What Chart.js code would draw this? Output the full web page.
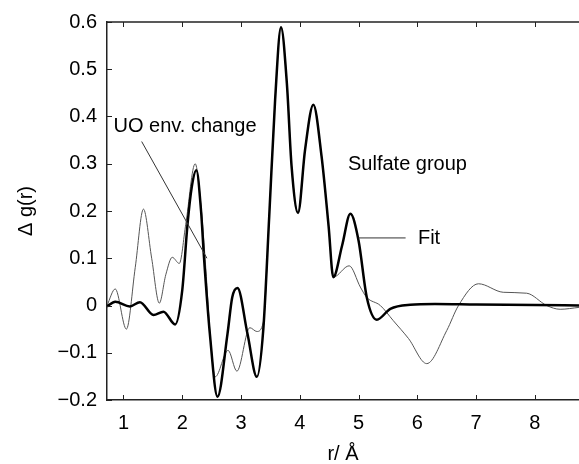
<!DOCTYPE html>
<html>
<head>
<meta charset="utf-8">
<script src="https://cdn.jsdelivr.net/npm/chart.js@4.4.0/dist/chart.umd.min.js"></script>
<style>
  html, body { margin: 0; padding: 0; background: #fff; }
</style>
</head>
<body>
<canvas id="myChart" width="579" height="464"></canvas>
<script>
// r values (Å) and Δg(r) for the fit (thick line)
const rFit = [0.72, 0.86, 1.11, 1.28, 1.51, 1.68, 1.88, 2.0, 2.09, 2.16, 2.24, 2.32, 2.37, 2.47, 2.6, 2.77, 2.85, 2.94, 3.11, 3.27, 3.38, 3.48, 3.58, 3.68, 3.78, 3.86, 3.97, 4.09, 4.23, 4.37, 4.49, 4.57, 4.72, 4.86, 5.0, 5.14, 5.31, 5.54, 5.88, 6.3, 7.0, 8.0, 8.75]
const gFit = [-0.002, 0.008, -0.002, 0.007, -0.02, -0.013, -0.04, 0.032, 0.172, 0.249, 0.286, 0.2, 0.102, -0.06, -0.193, -0.06, 0.017, 0.037, -0.06, -0.151, -0.049, 0.189, 0.435, 0.589, 0.47, 0.295, 0.196, 0.33, 0.425, 0.316, 0.168, 0.06, 0.127, 0.194, 0.137, 0.017, -0.03, -0.007, 0.0015, 0.003, 0.002, 0.001, 0.0]

// r values and Δg(r) for the measured difference (thin line)
const rExp = [0.72, 0.86, 1.05, 1.2, 1.34, 1.48, 1.61, 1.72, 1.83, 1.95, 2.06, 2.22, 2.32, 2.40, 2.48, 2.56, 2.78, 2.93, 3.15, 3.27, 3.38, 3.48, 3.58, 3.68, 3.78, 3.86, 3.97, 4.09, 4.23, 4.37, 4.49, 4.57, 4.84, 5.03, 5.14, 5.37, 5.59, 5.85, 6.16, 6.5, 6.70, 7.04, 7.46, 7.86, 8.2, 8.43, 8.75]
const gExp = [0.0, 0.035, -0.05, 0.08, 0.204, 0.1, 0.005, 0.065, 0.102, 0.089, 0.172, 0.30, 0.21, 0.08, -0.07, -0.151, -0.095, -0.139, -0.047, -0.055, -0.035, 0.189, 0.435, 0.589, 0.47, 0.295, 0.196, 0.33, 0.425, 0.316, 0.168, 0.06, 0.084, 0.039, 0.017, 0.0, -0.032, -0.07, -0.123, -0.053, 0.0, 0.046, 0.028, 0.026, 0.0, -0.008, -0.004]

const xTicks = [1, 2, 3, 4, 5, 6, 7, 8]
const yTicks = [-0.2, -0.1, 0, 0.1, 0.2, 0.3, 0.4, 0.5, 0.6]

// text labels in data units
const notes = [
  { text: 'UO env. change', x: 0.83, y: 0.378 },
  { text: 'Sulfate group', x: 4.82, y: 0.299 },
  { text: 'Fit', x: 6.01, y: 0.141 }
]
const leaders = [
  { x1: 1.31, y1: 0.347, x2: 2.42, y2: 0.10 },
  { x1: 5.0, y1: 0.143, x2: 5.8, y2: 0.143 }
]

const FONT = '"Liberation Sans", Arial, sans-serif'

function pairs(xs, ys) {
  return xs.map((x, i) => ({ x: x, y: ys[i] }))
}

// frame: top line plus inward ticks, and annotations
const framePlugin = {
  id: 'frame',
  afterDatasetsDraw(chart) {
    const ctx = chart.ctx
    const a = chart.chartArea
    const sx = chart.scales.x
    const sy = chart.scales.y
    ctx.save()
    ctx.strokeStyle = '#222'
    ctx.lineWidth = 1.5
    ctx.beginPath()
    ctx.moveTo(a.left, a.top)
    ctx.lineTo(a.right + 2, a.top)
    ctx.stroke()
    ctx.lineWidth = 1
    ctx.beginPath()
    xTicks.forEach(v => {
      const px = Math.round(sx.getPixelForValue(v)) + 0.5
      ctx.moveTo(px, a.bottom)
      ctx.lineTo(px, a.bottom - 5)
      ctx.moveTo(px, a.top)
      ctx.lineTo(px, a.top + 5)
    })
    yTicks.forEach(v => {
      const py = Math.round(sy.getPixelForValue(v)) + 0.5
      ctx.moveTo(a.left, py)
      ctx.lineTo(a.left + 5, py)
    })
    ctx.stroke()

    // leader lines
    ctx.strokeStyle = '#333'
    ctx.lineWidth = 1
    ctx.beginPath()
    leaders.forEach(l => {
      ctx.moveTo(sx.getPixelForValue(l.x1), sy.getPixelForValue(l.y1))
      ctx.lineTo(sx.getPixelForValue(l.x2), sy.getPixelForValue(l.y2))
    })
    ctx.stroke()

    // labels
    ctx.fillStyle = '#000'
    ctx.font = '20px ' + FONT
    ctx.textBaseline = 'middle'
    ctx.textAlign = 'left'
    notes.forEach(n => {
      ctx.fillText(n.text, sx.getPixelForValue(n.x), sy.getPixelForValue(n.y))
    })
    ctx.restore()
  }
}

new Chart(document.getElementById('myChart'), {
  type: 'line',
  data: {
    datasets: [
      {
        label: 'Fit',
        data: pairs(rFit, gFit),
        borderColor: '#000',
        borderWidth: 2.5,
        pointRadius: 0,
        cubicInterpolationMode: 'monotone',
        fill: false
      },
      {
        label: 'Data',
        data: pairs(rExp, gExp),
        borderColor: '#555',
        borderWidth: 1,
        pointRadius: 0,
        cubicInterpolationMode: 'monotone',
        fill: false
      }
    ]
  },
  options: {
    responsive: false,
    animation: false,
    devicePixelRatio: 1,
    layout: { padding: { top: 20, right: 0, bottom: 0, left: 0 } },
    plugins: {
      legend: { display: false },
      tooltip: { enabled: false }
    },
    scales: {
      x: {
        type: 'linear',
        min: 0.72,
        max: 8.75,
        afterBuildTicks: scale => { scale.ticks = xTicks.map(v => ({ value: v })) },
        afterFit: scale => { scale.height = 64 },
        grid: { display: false, drawTicks: false },
        border: { display: true, color: '#222', width: 1.5 },
        ticks: {
          color: '#000',
          padding: 11,
          maxRotation: 0,
          font: { family: FONT, size: 20 },
          callback: v => String(v)
        },
        title: {
          display: true,
          text: 'r/ Å',
          color: '#000',
          font: { family: FONT, size: 20, lineHeight: 1 },
          padding: { top: 0, bottom: 0 }
        }
      },
      y: {
        min: -0.2,
        max: 0.6,
        afterBuildTicks: scale => { scale.ticks = yTicks.map(v => ({ value: v })) },
        afterFit: scale => { scale.width = 107 },
        grid: { display: false, drawTicks: false },
        border: { display: true, color: '#222', width: 1.5 },
        ticks: {
          color: '#000',
          padding: 10,
          font: { family: FONT, size: 20 },
          callback: v => Math.abs(v) < 1e-9 ? '0' : v.toFixed(1).replace('-', '\u2212')
        },
        title: {
          display: true,
          text: 'Δ g(r)',
          color: '#000',
          font: { family: FONT, size: 20, lineHeight: 1 },
          padding: { top: 16, bottom: 0 }
        }
      }
    }
  },
  plugins: [framePlugin]
})
</script>
</body>
</html>
